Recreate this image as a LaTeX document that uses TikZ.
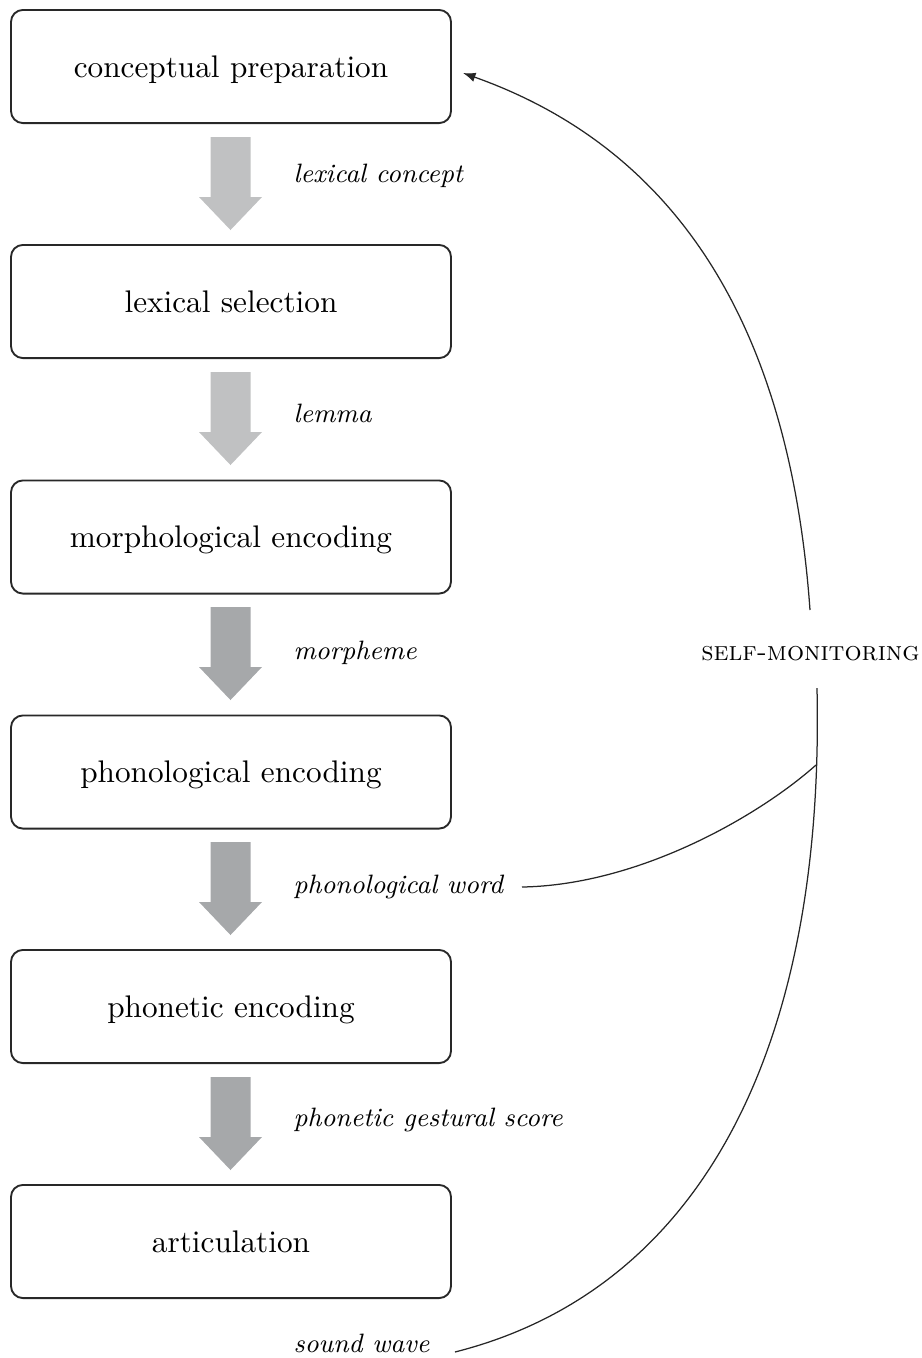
\documentclass[tikz,border=0pt]{standalone}
\usetikzlibrary{arrows.meta}
\definecolor{lightarrow}{RGB}{192,193,194}
\definecolor{darkarrow}{RGB}{166,168,170}
\definecolor{boxline}{RGB}{40,40,40}
\begin{document}
\begin{tikzpicture}[x=0.32pt,y=-0.32pt,
  stagebox/.style={draw=boxline,line width=0.6pt,rounded corners=3.8pt,
    minimum width=140.8pt,minimum height=36.2pt,inner sep=0pt,
    text height=6.94pt,text depth=0pt,font=\fontsize{10}{12}\selectfont},
  flowlabel/.style={anchor=base west,inner sep=0pt,font=\fontsize{8.5}{10}\selectfont\itshape},
  monitorlink/.style={line width=0.4pt,draw=black!85},
  blockarrow/.pic={\fill[#1] (-20,0) -- (20,0) -- (20,60) -- (31.5,60) -- (0,93) -- (-31.5,60) -- (-20,60) -- cycle;}]
\useasboundingbox (0,0) rectangle (921,1358);
\node[stagebox] (b1) at (231,66.5) {conceptual preparation};
\node[stagebox] (b2) at (231,301.5) {lexical selection};
\node[stagebox] (b3) at (231,537) {morphological encoding};
\node[stagebox] (b4) at (231,772) {phonological encoding};
\node[stagebox] (b5) at (231,1006.5) {phonetic encoding};
\node[stagebox] (b6) at (231,1241.5) {articulation};
\pic at (230.5,137) {blockarrow=lightarrow};
\pic at (230.5,372) {blockarrow=lightarrow};
\pic at (230.5,607) {blockarrow=darkarrow};
\pic at (230.5,842) {blockarrow=darkarrow};
\pic at (230.5,1077) {blockarrow=darkarrow};
\node[flowlabel] (l1) at (293,182) {lexical concept};
\node[flowlabel] (l2) at (293,422) {lemma};
\node[flowlabel] (l3) at (293,659) {morpheme};
\node[flowlabel] (l4) at (293,893) {phonological word};
\node[flowlabel] (l5) at (293,1126) {phonetic gestural score};
\node[flowlabel] (l6) at (293,1352) {sound wave};
\node[anchor=base,inner sep=0pt,font=\fontsize{8.6}{10}\selectfont] (sm) at (810.5,660) {\textsc{self-monitoring}};
\coordinate (c1) at (810,610);
\coordinate (t1) at (463,73);
\coordinate (c2) at (817,688);
\coordinate (t2) at (455,1352);
\coordinate (c3) at (816,765);
\coordinate (t3) at (522,887);
\draw[monitorlink,-{Latex[length=4pt,width=3pt]}] (c1) .. controls (790,330) and (680,150) .. (t1);
\draw[monitorlink] (c2) .. controls (825,1050) and (700,1290) .. (t2);
\draw[monitorlink] (c3) .. controls (760,815) and (640,885) .. (t3);
\end{tikzpicture}
\end{document}
